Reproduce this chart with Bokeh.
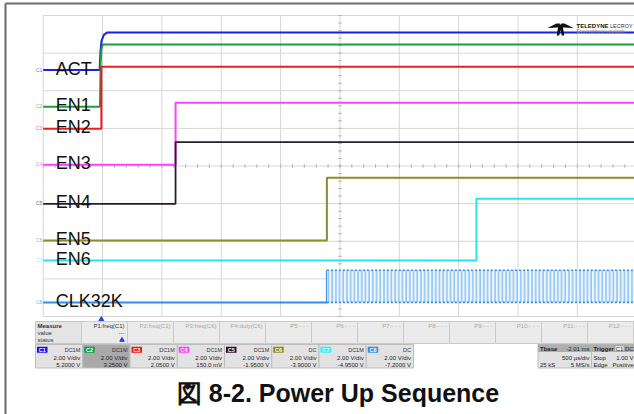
import numpy as np
from bokeh.plotting import figure
from bokeh.models import Range1d
from bokeh.core.properties import value
from bokeh.embed import file_html
from bokeh.resources import INLINE

# ------------------------------------------------------------------ data
channels = ["C1", "C2", "C3", "C4", "C5", "C6", "C7", "C8"]
names = ["ACT", "EN1", "EN2", "EN3", "EN4", "EN5", "EN6", "CLK32K"]
trace_colors = ["#1f1fe6", "#1f9e3f", "#f01c1c", "#ff40ff", "#2b1b30", "#8c8c2a", "#22e4f4", "#2f8de6"]
tag_colors = ["#1010ff", "#10a040", "#ff1010", "#ff40ff", "#2a102a", "#8c8c1e", "#30f0ff", "#2f8de6"]
volts_per_div = [2.0, 2.0, 2.0, 2.0, 2.0, 2.0, 2.0, 2.0]
offsets_v = [5.2, 3.25, 2.05, 0.15, -1.95, -3.9, -4.95, -7.2]
low_v = [-0.10, -0.10, -0.07, -0.09, -0.06, -0.06, -0.07, -0.05]
high_v = [1.90, 3.21, 3.22, 3.21, 3.22, 3.27, 3.21, 1.66]
edge_ms = [0.0, 0.0, 0.0, 0.625, 0.625, 1.90, 3.16, 1.90]

# ACT (C1) and EN1 (C2) rise with a visible RC shape
act_t = [-0.49, -0.015, -0.007, 0.002, 0.021, 0.05, 4.51]
act_v = [-0.10, -0.10, 0.94, 1.47, 1.77, 1.90, 1.90]
en1_t = [-0.49, -0.012, -0.006, 0.0, 0.012, 4.51]
en1_v = [-0.10, -0.10, 2.20, 2.95, 3.21, 3.21]

coupling = ["DC1M", "DC1M", "DC1M", "DC1M", "DC1M", "DC", "DC1M", "DC"]
vdiv_labels = ["2.00 V/div"] * 8
offset_labels = ["5.2000 V", "3.2500 V", "2.0500 V", "150.0 mV", "-1.9500 V", "-3.9000 V", "-4.9500 V", "-7.2000 V"]
p_labels = ["P1:freq(C1)", "P2:freq(C1)", "P3:freq(C6)", "P4:duty(C6)", "P5:- - -", "P6:- - -",
            "P7:- - -", "P8:- - -", "P9:- - -", "P10:- - -", "P11:- - -", "P12:- - -"]
measure_rows = ["Measure", "value", "status"]
tbase_text = ["Tbase", "-2.01 ms", "500 µs/div", "25 kS", "5 MS/s"]
trigger_text = ["Trigger", "C1", "DC", "Stop", "1.00 V", "Edge", "Positive"]
caption = "図 8-2. Power Up Sequence"

# scope time base
t_div = 0.5          # ms per division
t_center = 2.01      # ms at screen centre (Tbase -2.01 ms)
n_xdiv, n_ydiv = 10, 8
t_left = t_center - t_div * n_xdiv / 2
t_right = t_center + t_div * n_xdiv / 2

# ------------------------------------------------------------------ layout
W, H = 634, 414
GRID_L, GRID_T = 42.7, 15.0
DIV_W, DIV_H = 59.35, 37.625
FONT = "Liberation Sans"

x0 = t_left - GRID_L / DIV_W * t_div
x1 = x0 + W / DIV_W * t_div
y_top = (GRID_T + n_ydiv / 2 * DIV_H) / DIV_H
y_bot = y_top - H / DIV_H

p = figure(width=W, height=H, x_range=Range1d(x0, x1), y_range=Range1d(y_bot, y_top),
           output_backend="svg", toolbar_location=None, min_border=0,
           outline_line_color=None, background_fill_color="white", border_fill_color="white")
p.axis.visible = False
p.grid.visible = False
p.extra_x_ranges = {"px": Range1d(0, W)}
p.extra_y_ranges = {"py": Range1d(H, 0)}


def to_div(v, i):
    return (np.asarray(v, dtype=float) + offsets_v[i]) / volts_per_div[i]


# ------------------------------------------------------------------ grid
vx = [t_left + k * t_div for k in range(n_xdiv + 1)]
p.segment(x0=vx, x1=vx, y0=[-n_ydiv / 2] * len(vx), y1=[n_ydiv / 2] * len(vx),
          line_color="#d6d6d6", line_width=1)
hy = [j - n_ydiv / 2 for j in range(n_ydiv + 1)]
p.segment(x0=[t_left] * len(hy), x1=[t_right] * len(hy), y0=hy, y1=hy,
          line_color="#d6d6d6", line_width=1)
# minor ticks on the centre lines
tx = np.arange(t_left, t_right + 1e-9, t_div / 5)
p.segment(x0=tx, x1=tx, y0=[-0.05] * len(tx), y1=[0.05] * len(tx), line_color="#b5b5b5", line_width=1)
ty = np.arange(-n_ydiv / 2, n_ydiv / 2 + 1e-9, 0.2)
p.segment(x0=[t_center - 0.016] * len(ty), x1=[t_center + 0.016] * len(ty), y0=ty, y1=ty,
          line_color="#b5b5b5", line_width=1)

# ------------------------------------------------------------------ traces
for i in range(8):
    if i == 0:
        tt, vv = act_t, act_v
    elif i == 1:
        tt, vv = en1_t, en1_v
    elif i == 7:
        tt, vv = [t_left, edge_ms[i], edge_ms[i]], [low_v[i], low_v[i], high_v[i]]
    else:
        tt = [t_left, edge_ms[i], edge_ms[i], t_right]
        vv = [low_v[i], low_v[i], high_v[i], high_v[i]]
    p.line(tt, to_div(vv, i), line_color=trace_colors[i], line_width=2 if i != 4 else 1.8)

# CLK32K burst
ci = 7
lo, hi = float(to_div([low_v[ci]], ci)[0]), float(to_div([high_v[ci]], ci)[0])
p.quad(left=[edge_ms[ci]], right=[t_right], bottom=[lo], top=[hi],
       fill_color="#eef6fd", line_color=None,
       hatch_pattern="vertical_line", hatch_color="#72b5f0", hatch_scale=3.7, hatch_weight=1.2)
p.segment(x0=[edge_ms[ci], edge_ms[ci]], x1=[t_right, t_right], y0=[lo, hi], y1=[lo, hi],
          line_color=trace_colors[ci], line_width=1.6, line_dash="2 2")

# trace labels
lows = [float(to_div([low_v[i]], i)[0]) for i in range(8)]
p.text(x=[-0.385] * 8, y=lows, text=names, text_font=value(FONT), text_font_size="18px",
       text_color="#111111", text_baseline="alphabetic", y_offset=-1.5)
# small channel markers left of grid
p.text(x=[35.5] * 8, y=lows, text=channels, x_range_name="px", text_font=value(FONT),
       text_font_size="5px", text_color=tag_colors, text_baseline="alphabetic", y_offset=-0.5,
       text_alpha=0.7)

# trigger marker
p.scatter(x=[0.0], y=[319.5], y_range_name="py", marker="triangle", size=6,
          fill_color="#2040e0", line_color="#2040e0")

# ------------------------------------------------------------------ outer frame
p.segment(x0=[5, 5], y0=[3, 3], x1=[W, 5], y1=[3, H],
          x_range_name="px", y_range_name="py", line_color="#6b6b6b", line_width=2)

# ------------------------------------------------------------------ logo
p.patches(xs=[[547, 556, 559.3, 559.3, 553], [573, 564, 560.7, 560.7, 567],
              [558, 562, 563.8, 561.3, 560, 558.7, 556.2]],
          ys=[[27.5, 23, 23, 26.8, 27.2], [27.5, 23, 23, 26.8, 27.2],
              [24, 24, 35, 35, 29.5, 35, 35]],
          x_range_name="px", y_range_name="py", fill_color="#111111", line_color=None)
p.text(x=[576], y=[25], text=["TELEDYNE"], x_range_name="px", y_range_name="py",
       text_font=value(FONT), text_font_style="bold", text_font_size="6px", text_baseline="middle",
       text_color="#111111")
p.text(x=[609.5], y=[25], text=["LECROY"], x_range_name="px", y_range_name="py",
       text_font=value(FONT), text_font_size="5.5px", text_baseline="middle", text_color="#333333")
p.text(x=[576], y=[30.5], text=["Everywhereyoulook"], x_range_name="px", y_range_name="py",
       text_font=value(FONT), text_font_size="5.5px", text_baseline="middle", text_color="#888888")

# ------------------------------------------------------------------ measure row
MT, MB = 321.0, 343.0
p.quad(left=[35], right=[640], top=[MT], bottom=[MB], x_range_name="px", y_range_name="py",
       fill_color="#e4e4e4", line_color="#c6c6c6")
cl = 81 + 46.0 * np.arange(12)
p.quad(left=cl, right=cl + 46.0, top=[MT] * 12, bottom=[MB] * 12, x_range_name="px", y_range_name="py",
       fill_color="#ebebeb", line_color="#cacaca")
p.text(x=cl + 43, y=[325.5] * 12, text=p_labels, x_range_name="px", y_range_name="py",
       text_font=value(FONT), text_font_size="6px", text_align="right", text_baseline="middle",
       text_color=["#333333"] + ["#a9a9a9"] * 11)
p.text(x=[37] * 3, y=[325.5, 332.5, 339.5], text=measure_rows, x_range_name="px", y_range_name="py",
       text_font=value(FONT), text_font_size="6px", text_baseline="middle", text_color="#333333",
       text_font_style=["bold", "normal", "normal"])
p.text(x=[124], y=[332.5], text=["---"], x_range_name="px", y_range_name="py",
       text_font=value(FONT), text_font_size="6px", text_align="right", text_baseline="middle",
       text_color="#333333")
p.scatter(x=[121.5], y=[339.5], x_range_name="px", y_range_name="py", marker="triangle", size=4.5,
          fill_color="#2040e0", line_color="#2040e0")

# ------------------------------------------------------------------ channel row
CT, CB = 344.0, 367.5
bl = 35 + 47.25 * np.arange(8)
br = bl + 47.25
p.quad(left=bl, right=br, top=[CT] * 8, bottom=[CB] * 8, x_range_name="px", y_range_name="py",
       fill_color=["#e2e2e2", "#a9a9a9"] + ["#e2e2e2"] * 6, line_color="#bdbdbd")
p.quad(left=bl + 1.5, right=bl + 12, top=[346.2] * 8, bottom=[352.2] * 8, x_range_name="px",
       y_range_name="py", fill_color=tag_colors, line_color=None)
p.text(x=bl + 6.7, y=[349.3] * 8, text=channels, x_range_name="px", y_range_name="py",
       text_font=value(FONT), text_font_size="5.5px", text_font_style="bold", text_align="center",
       text_baseline="middle", text_color="white")
p.text(x=br - 2.5, y=[349.3] * 8, text=coupling, x_range_name="px", y_range_name="py",
       text_font=value(FONT), text_font_size="5.5px", text_align="right", text_baseline="middle",
       text_color="#333333")
p.text(x=br - 2.5, y=[357.6] * 8, text=vdiv_labels, x_range_name="px", y_range_name="py",
       text_font=value(FONT), text_font_size="6px", text_align="right", text_baseline="middle",
       text_color="#222222")
p.text(x=br - 2.5, y=[364.8] * 8, text=offset_labels, x_range_name="px", y_range_name="py",
       text_font=value(FONT), text_font_size="6px", text_align="right", text_baseline="middle",
       text_color="#222222")

# timebase box
p.quad(left=[537.5, 591], right=[591, 640], top=[CT, CT], bottom=[CB, CB], x_range_name="px",
       y_range_name="py", fill_color="#e2e2e2", line_color="#bdbdbd")
p.quad(left=[537.5, 591], right=[591, 640], top=[CT, CT], bottom=[351.5, 351.5], x_range_name="px",
       y_range_name="py", fill_color="#aeaeae", line_color=None)
p.text(x=[539.5, 589, 589, 539.5, 589], y=[348, 348, 357.6, 364.8, 364.8], text=tbase_text,
       x_range_name="px", y_range_name="py", text_font=value(FONT), text_font_size="6px",
       text_align=["left", "right", "right", "left", "right"], text_baseline="middle",
       text_color="#222222", text_font_style=["bold", "normal", "normal", "normal", "normal"])
p.quad(left=[614.5], right=[623.5], top=[345.3], bottom=[350.8], x_range_name="px", y_range_name="py",
       fill_color="#f2f2f2", line_color="#888888", line_width=0.6)
p.text(x=[593, 619, 624.5, 593, 633, 593, 633], y=[348, 348, 348, 357.6, 357.6, 364.8, 364.8],
       text=trigger_text, x_range_name="px", y_range_name="py", text_font=value(FONT),
       text_font_size="6px",
       text_align=["left", "center", "left", "left", "right", "left", "right"], text_baseline="middle",
       text_color="#222222", text_font_style=["bold"] + ["normal"] * 6)

# ------------------------------------------------------------------ caption
p.text(x=[337.5], y=[392], text=[caption], x_range_name="px", y_range_name="py",
       text_font=value(FONT), text_font_size="25px", text_font_style="bold", text_align="center",
       text_baseline="middle", text_color="#111111")

open("out.html", "w").write(file_html(p, INLINE))
